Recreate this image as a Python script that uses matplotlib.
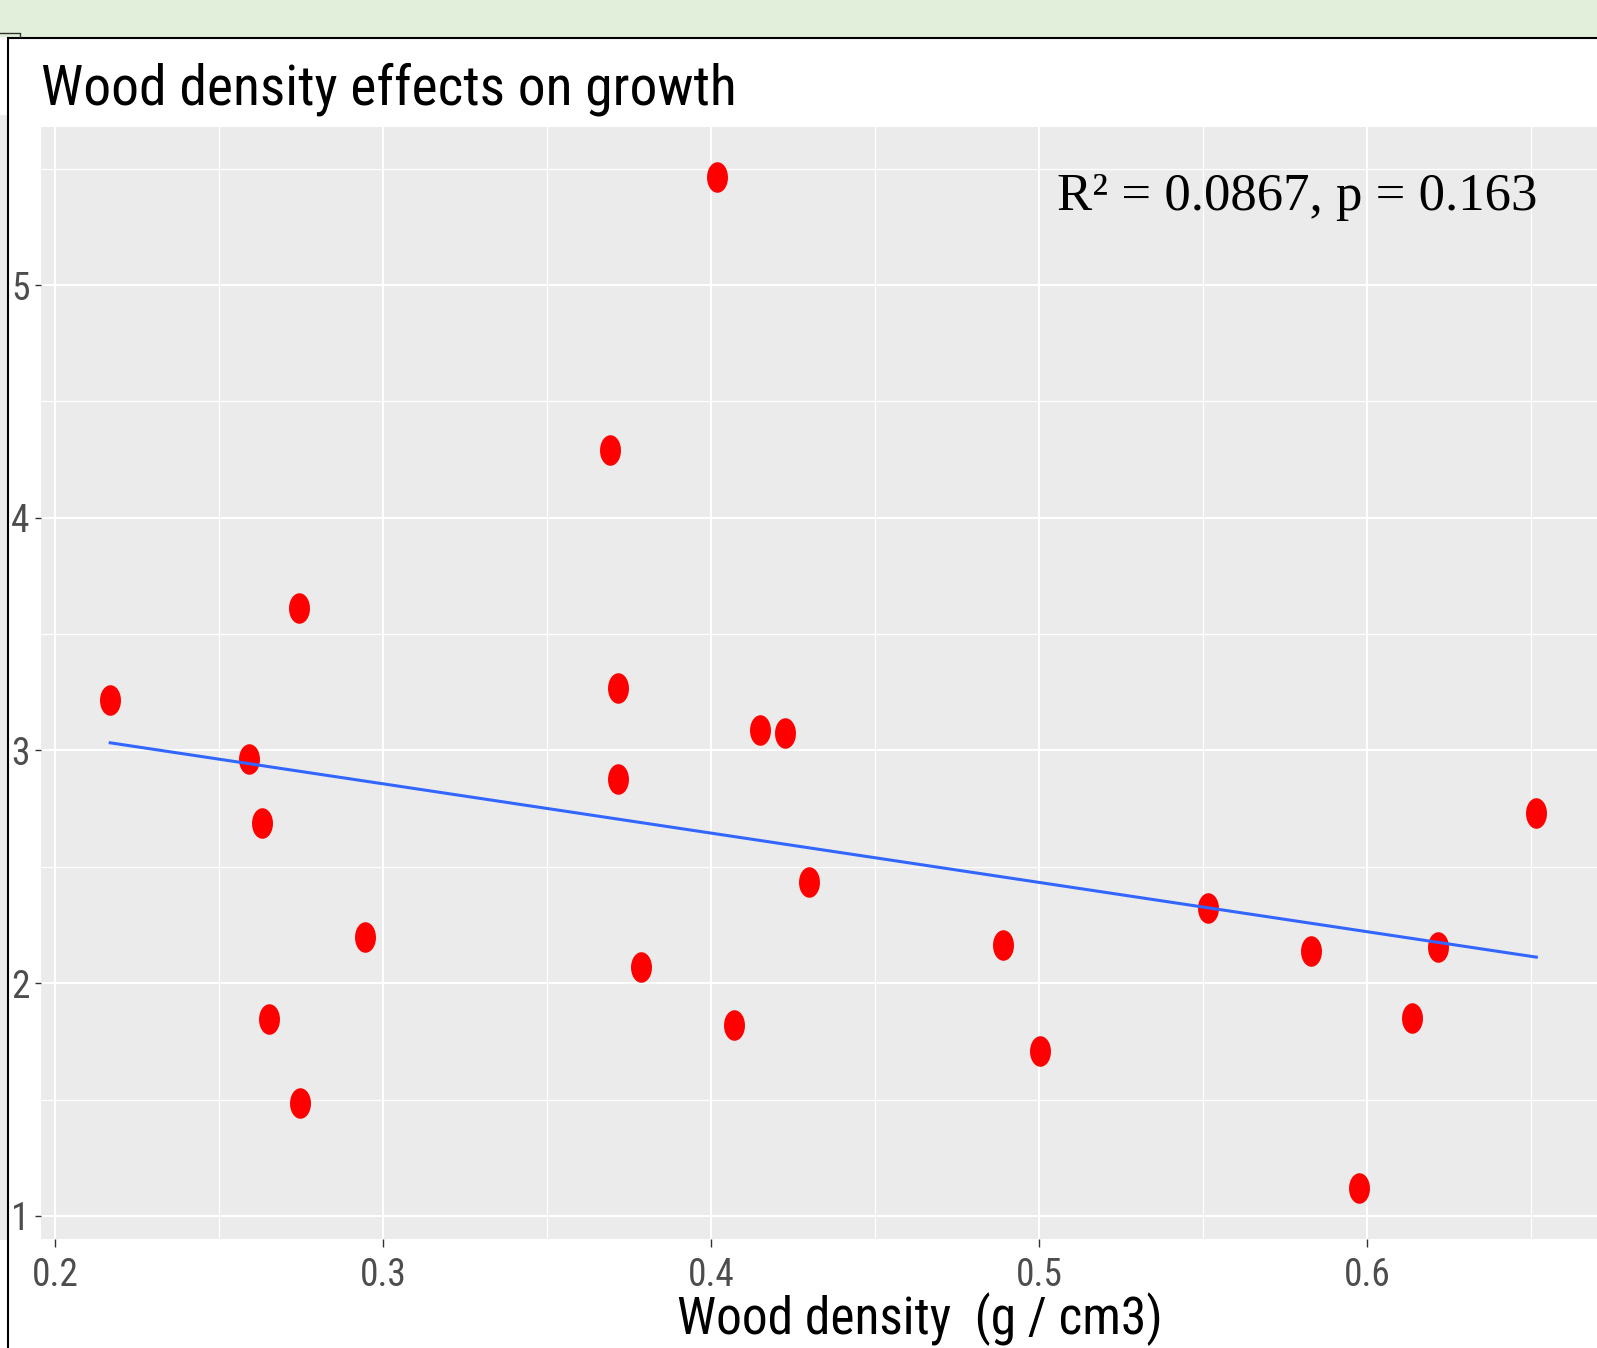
import numpy as np
import matplotlib
matplotlib.use('Agg')
import matplotlib.pyplot as plt
from matplotlib import font_manager
from matplotlib.patches import Rectangle
from matplotlib.lines import Line2D

# wood density (g/cm3) and growth
density = [0.2168, 0.2592, 0.2630, 0.2742, 0.2945, 0.2652, 0.2748, 0.3692,
           0.4019, 0.3717, 0.3717, 0.3785, 0.4149, 0.4226, 0.4297, 0.4070,
           0.4888, 0.5003, 0.5515, 0.5829, 0.5976, 0.6136, 0.6214, 0.6515]
growth = [3.217, 2.962, 2.687, 3.612, 2.197, 1.846, 1.486, 4.291,
          5.465, 3.270, 2.876, 2.069, 3.088, 3.074, 2.436, 1.819,
          2.164, 1.709, 2.325, 2.139, 1.118, 1.849, 2.154, 2.730]

x_ticks = [0.2, 0.3, 0.4, 0.5, 0.6]
y_ticks = [1, 2, 3, 4, 5]
title = 'Wood density effects on growth'
x_title = 'Wood density  (g / cm3)'
stats_label = 'R\u00b2 = 0.0867, p = 0.163'

# the screenshot text is horizontally squeezed; use a narrow face if there is one
names = {f.name for f in font_manager.fontManager.ttflist}
sans, k = 'Liberation Sans', 0.88
for cand in ['Liberation Sans Narrow', 'Arial Narrow', 'Roboto Condensed', 'Open Sans Condensed']:
    if cand in names:
        sans, k = cand, 1.0
        break

W, H = 1597, 1348
fig = plt.figure(figsize=(W / 100, H / 100), dpi=100)
fig.patch.set_facecolor('white')

# screenshot surroundings
fig.add_artist(Rectangle((0, 1 - 37 / H), 1, 37 / H, transform=fig.transFigure,
                         facecolor='#E2EFDA', edgecolor='none', zorder=0))
fig.add_artist(Rectangle((0, 1 - 1240 / H), 8 / W, (1240 - 115) / H, transform=fig.transFigure,
                         facecolor='#EBEBEB', edgecolor='none', zorder=0))
fig.add_artist(Line2D([8 / W, 1], [1 - 37.5 / H] * 2, transform=fig.transFigure,
                      color='black', lw=1.5))
fig.add_artist(Line2D([8 / W, 8 / W], [0, 1 - 37.5 / H], transform=fig.transFigure,
                      color='black', lw=1.5))
fig.add_artist(Line2D([0, 20 / W, 20 / W], [1 - 32.5 / H, 1 - 32.5 / H, 1 - 37 / H],
                      transform=fig.transFigure, color='#333333', lw=1))

ax = fig.add_axes([41 / W, 1 - 1239 / H, (W - 41) / W, (1239 - 127) / H])
ax.set_facecolor('#EBEBEB')
for s in ax.spines.values():
    s.set_visible(False)

ax.set_xlim(0.1957, 0.670)
ax.set_ylim(0.901, 5.679)
ax.set_xticks(x_ticks)
ax.set_xticklabels([str(v) for v in x_ticks])
ax.set_yticks(y_ticks)
ax.set_yticklabels([str(v) for v in y_ticks])
ax.set_xticks([0.25, 0.35, 0.45, 0.55, 0.65], minor=True)
ax.set_yticks([1.5, 2.5, 3.5, 4.5, 5.5], minor=True)
ax.grid(True, which='major', color='white', lw=1.5)
ax.grid(True, which='minor', color='white', lw=0.9)
ax.set_axisbelow(True)
ax.tick_params(which='minor', length=0)
ax.tick_params(axis='x', which='major', length=5.8, width=1, color='#333333',
               pad=7, labelsize=27 * k, labelcolor='#4D4D4D')
ax.tick_params(axis='y', which='major', length=4.3, width=1, color='#333333',
               pad=4, labelsize=27 * k, labelcolor='#4D4D4D')
for lab in ax.get_xticklabels() + ax.get_yticklabels():
    lab.set_family(sans)

# points, slightly stretched vertically like the screenshot
t = np.linspace(0, 2 * np.pi, 40)
ellipse = list(zip(0.67 * np.cos(t), np.sin(t)))
ax.plot(density, growth, linestyle='none', marker=ellipse, ms=21,
        color='#FF0000', zorder=3)

# linear fit
coef = np.polyfit(density, growth, 1)
xs = np.linspace(min(density), max(density), 80)
ax.plot(xs, np.polyval(coef, xs), color='#3366FF', lw=2.2, zorder=4)

ax.text(0.5055, 5.322, stats_label, family='Liberation Serif', fontsize=38,
        ha='left', va='baseline', color='black')

fig.text(41 / W, 1 - 104 / H, title, family=sans, fontsize=40 * k,
         ha='left', va='baseline', color='black')
ax.set_xlabel(x_title, family=sans, fontsize=37 * k, color='black')
ax.xaxis.set_label_coords((920 - 41) / (W - 41), -(1334 - 1239) / (1239 - 127))
ax.xaxis.label.set_verticalalignment('baseline')

fig.savefig('out.png', dpi=100)
